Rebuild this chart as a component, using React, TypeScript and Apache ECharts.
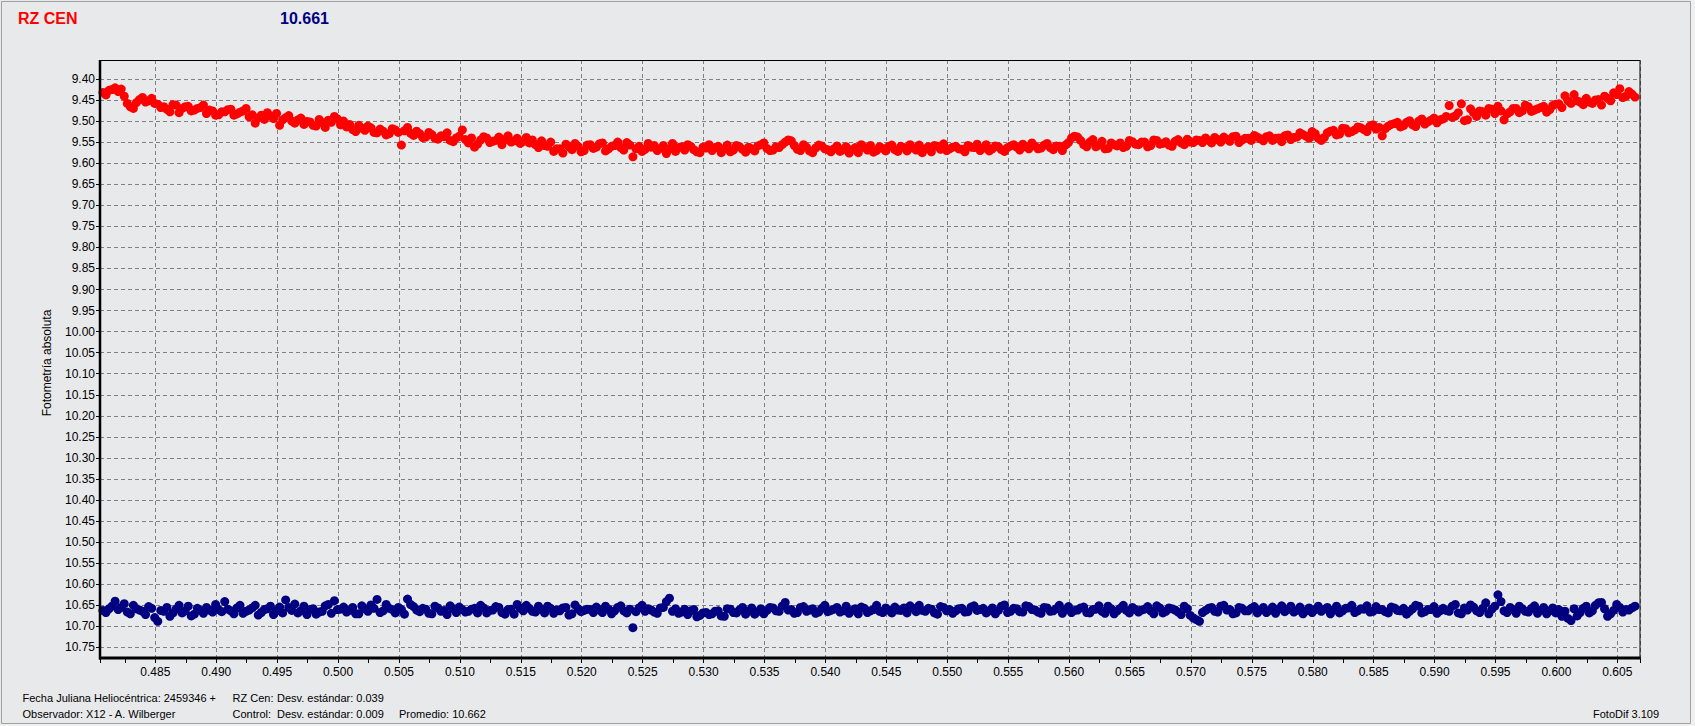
import React, { useEffect, useRef } from "react";
import * as echarts from "echarts";

// Heliocentric Julian Date fraction (2459346 + t), first set of frames
const times = [
  0.4807, 0.4812, 0.4817, 0.4822, 0.4827, 0.4832, 0.4837, 0.4842, 0.4847, 0.4852,
  0.4857, 0.4862, 0.4867, 0.4872, 0.4877, 0.4882, 0.4887, 0.4892, 0.4897, 0.4902,
  0.4907, 0.4912, 0.4917, 0.4922, 0.4927, 0.4932, 0.4937, 0.4942, 0.4947, 0.4952,
  0.4957, 0.4962, 0.4967, 0.4972, 0.4977, 0.4982, 0.4987, 0.4992, 0.4997, 0.5002,
  0.5007, 0.5012, 0.5017, 0.5022, 0.5027, 0.5032, 0.5037, 0.5042, 0.5047, 0.5052,
  0.5057, 0.5062, 0.5067, 0.5072, 0.5077, 0.5082, 0.5087, 0.5092, 0.5097, 0.5102,
  0.5107, 0.5112, 0.5117, 0.5122, 0.5127, 0.5132, 0.5137, 0.5142, 0.5147, 0.5152,
  0.5157, 0.5162, 0.5167, 0.5172, 0.5177, 0.5182, 0.5187, 0.5192, 0.5197, 0.5202,
  0.5207, 0.5212, 0.5217, 0.5222, 0.5227, 0.5232, 0.5237, 0.5242, 0.5247, 0.5252,
  0.5257, 0.5262, 0.5267, 0.5272, 0.5277, 0.5282, 0.5287, 0.5292, 0.5297, 0.5302,
  0.5307, 0.5312, 0.5317, 0.5322, 0.5327, 0.5332, 0.5337, 0.5342, 0.5347, 0.5352,
  0.5357, 0.5362, 0.5367, 0.5372, 0.5377, 0.5382, 0.5387, 0.5392, 0.5397, 0.5402,
  0.5407, 0.5412, 0.5417, 0.5422, 0.5427, 0.5432, 0.5437, 0.5442, 0.5447, 0.5452,
  0.5457, 0.5462, 0.5467, 0.5472, 0.5477, 0.5482, 0.5487, 0.5492, 0.5497, 0.5502,
  0.5507, 0.5512, 0.5517, 0.5522, 0.5527, 0.5532, 0.5537, 0.5542, 0.5547, 0.5552,
  0.5557, 0.5562, 0.5567, 0.5572, 0.5577, 0.5582, 0.5587, 0.5592, 0.5597, 0.5602,
  0.5607, 0.5612, 0.5617, 0.5622, 0.5627, 0.5632, 0.5637, 0.5642, 0.5647, 0.5652,
  0.5657, 0.5662, 0.5667, 0.5672, 0.5677, 0.5682, 0.5687, 0.5692, 0.5697, 0.5702,
  0.5707, 0.5712, 0.5717, 0.5722, 0.5727, 0.5732, 0.5737, 0.5742, 0.5747, 0.5752,
  0.5757, 0.5762, 0.5767, 0.5772, 0.5777, 0.5782, 0.5787, 0.5792, 0.5797, 0.5802,
  0.5807, 0.5812, 0.5817, 0.5822, 0.5827, 0.5832, 0.5837, 0.5842, 0.5847, 0.5852,
  0.5857, 0.5862, 0.5867, 0.5872, 0.5877, 0.5882, 0.5887, 0.5892, 0.5897, 0.5902,
  0.5907, 0.5912, 0.5917, 0.5922, 0.5927, 0.5932, 0.5937, 0.5942, 0.5947, 0.5952,
  0.5957, 0.5962, 0.5967, 0.5972, 0.5977, 0.5982, 0.5987, 0.5992, 0.5997, 0.6002,
  0.6007, 0.6012, 0.6017, 0.6022, 0.6027, 0.6032, 0.6037, 0.6042, 0.6047, 0.6052,
  0.6057, 0.6062,
];

// second set of frames (interleaved)
const timesB = [
  0.48095, 0.48145, 0.48195, 0.48245, 0.48295, 0.48345, 0.48395, 0.48445, 0.48495, 0.48545,
  0.48595, 0.48645, 0.48695, 0.48745, 0.48795, 0.48845, 0.48895, 0.48945, 0.48995, 0.49045,
  0.49095, 0.49145, 0.49195, 0.49245, 0.49295, 0.49345, 0.49395, 0.49445, 0.49495, 0.49545,
  0.49595, 0.49645, 0.49695, 0.49745, 0.49795, 0.49845, 0.49895, 0.49945, 0.49995, 0.50045,
  0.50095, 0.50145, 0.50195, 0.50245, 0.50295, 0.50345, 0.50395, 0.50445, 0.50495, 0.50545,
  0.50595, 0.50645, 0.50695, 0.50745, 0.50795, 0.50845, 0.50895, 0.50945, 0.50995, 0.51045,
  0.51095, 0.51145, 0.51195, 0.51245, 0.51295, 0.51345, 0.51395, 0.51445, 0.51495, 0.51545,
  0.51595, 0.51645, 0.51695, 0.51745, 0.51795, 0.51845, 0.51895, 0.51945, 0.51995, 0.52045,
  0.52095, 0.52145, 0.52195, 0.52245, 0.52295, 0.52345, 0.52395, 0.52445, 0.52495, 0.52545,
  0.52595, 0.52645, 0.52695, 0.52745, 0.52795, 0.52845, 0.52895, 0.52945, 0.52995, 0.53045,
  0.53095, 0.53145, 0.53195, 0.53245, 0.53295, 0.53345, 0.53395, 0.53445, 0.53495, 0.53545,
  0.53595, 0.53645, 0.53695, 0.53745, 0.53795, 0.53845, 0.53895, 0.53945, 0.53995, 0.54045,
  0.54095, 0.54145, 0.54195, 0.54245, 0.54295, 0.54345, 0.54395, 0.54445, 0.54495, 0.54545,
  0.54595, 0.54645, 0.54695, 0.54745, 0.54795, 0.54845, 0.54895, 0.54945, 0.54995, 0.55045,
  0.55095, 0.55145, 0.55195, 0.55245, 0.55295, 0.55345, 0.55395, 0.55445, 0.55495, 0.55545,
  0.55595, 0.55645, 0.55695, 0.55745, 0.55795, 0.55845, 0.55895, 0.55945, 0.55995, 0.56045,
  0.56095, 0.56145, 0.56195, 0.56245, 0.56295, 0.56345, 0.56395, 0.56445, 0.56495, 0.56545,
  0.56595, 0.56645, 0.56695, 0.56745, 0.56795, 0.56845, 0.56895, 0.56945, 0.56995, 0.57045,
  0.57095, 0.57145, 0.57195, 0.57245, 0.57295, 0.57345, 0.57395, 0.57445, 0.57495, 0.57545,
  0.57595, 0.57645, 0.57695, 0.57745, 0.57795, 0.57845, 0.57895, 0.57945, 0.57995, 0.58045,
  0.58095, 0.58145, 0.58195, 0.58245, 0.58295, 0.58345, 0.58395, 0.58445, 0.58495, 0.58545,
  0.58595, 0.58645, 0.58695, 0.58745, 0.58795, 0.58845, 0.58895, 0.58945, 0.58995, 0.59045,
  0.59095, 0.59145, 0.59195, 0.59245, 0.59295, 0.59345, 0.59395, 0.59445, 0.59495, 0.59545,
  0.59595, 0.59645, 0.59695, 0.59745, 0.59795, 0.59845, 0.59895, 0.59945, 0.59995, 0.60045,
  0.60095, 0.60145, 0.60195, 0.60245, 0.60295, 0.60345, 0.60395, 0.60445, 0.60495, 0.60545,
  0.60595, 0.60645,
];

// RZ Cen magnitudes (first set)
const rzCen = [
  9.432, 9.427, 9.421, 9.424, 9.458, 9.470, 9.449, 9.455, 9.446, 9.460,
  9.466, 9.478, 9.462, 9.470, 9.465, 9.474, 9.468, 9.482, 9.476, 9.485,
  9.478, 9.472, 9.483, 9.476, 9.490, 9.505, 9.486, 9.480, 9.494, 9.510,
  9.492, 9.500, 9.497, 9.508, 9.502, 9.512, 9.504, 9.498, 9.489, 9.509,
  9.514, 9.520, 9.510, 9.522, 9.516, 9.528, 9.524, 9.530, 9.521, 9.557,
  9.515, 9.534, 9.530, 9.538, 9.532, 9.543, 9.537, 9.546, 9.540, 9.521,
  9.552, 9.562, 9.545, 9.540, 9.548, 9.538, 9.544, 9.550, 9.541, 9.548,
  9.552, 9.556, 9.547, 9.560, 9.572, 9.566, 9.555, 9.568, 9.560, 9.570,
  9.556, 9.562, 9.552, 9.566, 9.558, 9.563, 9.551, 9.585, 9.560, 9.567,
  9.562, 9.570, 9.558, 9.566, 9.572, 9.561, 9.556, 9.568, 9.575, 9.564,
  9.570, 9.560, 9.566, 9.573, 9.558, 9.567, 9.562, 9.571, 9.556, 9.565,
  9.569, 9.563, 9.550, 9.547, 9.567, 9.556, 9.571, 9.564, 9.559, 9.568,
  9.566, 9.572, 9.561, 9.568, 9.575, 9.563, 9.558, 9.570, 9.565, 9.560,
  9.568, 9.560, 9.571, 9.564, 9.557, 9.566, 9.573, 9.560, 9.554, 9.566,
  9.560, 9.567, 9.558, 9.563, 9.570, 9.556, 9.566, 9.561, 9.572, 9.559,
  9.562, 9.555, 9.566, 9.559, 9.564, 9.553, 9.568, 9.560, 9.557, 9.540,
  9.538, 9.556, 9.550, 9.561, 9.548, 9.565, 9.556, 9.552, 9.560, 9.549,
  9.556, 9.550, 9.558, 9.546, 9.553, 9.557, 9.548, 9.552, 9.543, 9.551,
  9.546, 9.540, 9.552, 9.544, 9.538, 9.548, 9.536, 9.545, 9.541, 9.534,
  9.542, 9.537, 9.546, 9.540, 9.535, 9.544, 9.538, 9.532, 9.541, 9.530,
  9.546, 9.528, 9.522, 9.531, 9.518, 9.525, 9.514, 9.520, 9.512, 9.519,
  9.535, 9.512, 9.506, 9.514, 9.503, 9.509, 9.500, 9.507, 9.498, 9.504,
  9.495, 9.463, 9.488, 9.459, 9.497, 9.480, 9.476, 9.486, 9.472, 9.465,
  9.497, 9.478, 9.470, 9.476, 9.466, 9.474, 9.468, 9.479, 9.463, 9.459,
  9.440, 9.458, 9.452, 9.461, 9.455, 9.450, 9.462, 9.446, 9.433, 9.423,
  9.441, 9.436,
];

// RZ Cen magnitudes (second set)
const rzCenB = [
  9.438, 9.425, 9.430, 9.441, 9.466, 9.456, 9.444, 9.452, 9.458, 9.468,
  9.472, 9.461, 9.480, 9.466, 9.476, 9.470, 9.462, 9.474, 9.486, 9.478,
  9.473, 9.486, 9.479, 9.470, 9.485, 9.492, 9.496, 9.488, 9.482, 9.497,
  9.487, 9.505, 9.493, 9.501, 9.510, 9.496, 9.515, 9.503, 9.495, 9.500,
  9.508, 9.525, 9.517, 9.512, 9.527, 9.519, 9.533, 9.518, 9.527, 9.523,
  9.529, 9.524, 9.539, 9.527, 9.541, 9.535, 9.528, 9.549, 9.536, 9.544,
  9.540, 9.555, 9.537, 9.551, 9.546, 9.556, 9.535, 9.547, 9.553, 9.539,
  9.545, 9.563, 9.558, 9.550, 9.566, 9.576, 9.561, 9.553, 9.573, 9.557,
  9.565, 9.554, 9.571, 9.560, 9.550, 9.569, 9.557, 9.566, 9.572, 9.553,
  9.558, 9.565, 9.577, 9.553, 9.563, 9.569, 9.560, 9.573, 9.562, 9.556,
  9.563, 9.575, 9.557, 9.569, 9.561, 9.574, 9.566, 9.559, 9.552, 9.570,
  9.561, 9.556, 9.545, 9.558, 9.570, 9.562, 9.575, 9.557, 9.566, 9.573,
  9.559, 9.568, 9.576, 9.563, 9.556, 9.569, 9.574, 9.561, 9.571, 9.557,
  9.572, 9.563, 9.556, 9.569, 9.575, 9.561, 9.558, 9.567, 9.570, 9.562,
  9.566, 9.573, 9.562, 9.555, 9.564, 9.571, 9.559, 9.568, 9.563, 9.556,
  9.569, 9.561, 9.552, 9.566, 9.557, 9.563, 9.559, 9.570, 9.551, 9.536,
  9.546, 9.561, 9.544, 9.557, 9.566, 9.552, 9.559, 9.563, 9.546, 9.555,
  9.550, 9.561, 9.545, 9.555, 9.549, 9.560, 9.544, 9.556, 9.550, 9.545,
  9.551, 9.546, 9.539, 9.550, 9.543, 9.537, 9.551, 9.541, 9.546, 9.538,
  9.547, 9.535, 9.541, 9.549, 9.533, 9.539, 9.528, 9.536, 9.525, 9.541,
  9.539, 9.524, 9.533, 9.517, 9.528, 9.521, 9.516, 9.525, 9.509, 9.515,
  9.518, 9.508, 9.503, 9.511, 9.499, 9.513, 9.495, 9.502, 9.493, 9.497,
  9.489, 9.491, 9.480, 9.499, 9.471, 9.489, 9.478, 9.470, 9.482, 9.476,
  9.483, 9.470, 9.480, 9.462, 9.477, 9.471, 9.465, 9.473, 9.460, 9.468,
  9.452, 9.437, 9.455, 9.446, 9.458, 9.449, 9.441, 9.452, 9.437, 9.444,
  9.430, 9.443,
];

// Control star magnitudes (first set)
const control = [
  10.662, 10.658, 10.640, 10.655, 10.666, 10.650, 10.661, 10.672, 10.657, 10.688,
  10.664, 10.676, 10.659, 10.668, 10.652, 10.671, 10.662, 10.655, 10.666, 10.660,
  10.641, 10.663, 10.656, 10.669, 10.661, 10.650, 10.667, 10.658, 10.672, 10.654,
  10.637, 10.662, 10.668, 10.652, 10.660, 10.671, 10.664, 10.648, 10.639, 10.659,
  10.666, 10.655, 10.670, 10.658, 10.649, 10.636, 10.663, 10.657, 10.668, 10.660,
  10.635, 10.653, 10.665, 10.659, 10.670, 10.656, 10.662, 10.651, 10.667, 10.660,
  10.664, 10.657, 10.650, 10.668, 10.661, 10.655, 10.671, 10.659, 10.648, 10.663,
  10.657, 10.666, 10.660, 10.652, 10.669, 10.663, 10.655, 10.670, 10.658, 10.662,
  10.660, 10.654, 10.667, 10.659, 10.663, 10.651, 10.668, 10.703, 10.656, 10.664,
  10.661, 10.669, 10.655, 10.633, 10.658, 10.666, 10.672, 10.660, 10.674, 10.667,
  10.670, 10.663, 10.676, 10.659, 10.668, 10.655, 10.664, 10.671, 10.658, 10.662,
  10.656, 10.664, 10.643, 10.660, 10.667, 10.653, 10.661, 10.669, 10.657, 10.665,
  10.659, 10.666, 10.652, 10.662, 10.670, 10.657, 10.663, 10.650, 10.667, 10.661,
  10.654, 10.662, 10.668, 10.657, 10.650, 10.664, 10.659, 10.671, 10.655, 10.660,
  10.663, 10.657, 10.665, 10.651, 10.660, 10.668, 10.656, 10.662, 10.649, 10.664,
  10.658, 10.666, 10.653, 10.661, 10.669, 10.656, 10.663, 10.650, 10.660, 10.667,
  10.661, 10.654, 10.668, 10.659, 10.664, 10.652, 10.670, 10.657, 10.662, 10.655,
  10.666, 10.659, 10.663, 10.651, 10.668, 10.656, 10.661, 10.672, 10.658, 10.680,
  10.688, 10.662, 10.655, 10.666, 10.650, 10.660, 10.668, 10.657, 10.663, 10.653,
  10.661, 10.667, 10.654, 10.659, 10.665, 10.652, 10.662, 10.670, 10.656, 10.660,
  10.664, 10.655, 10.661, 10.668, 10.657, 10.650, 10.663, 10.659, 10.666, 10.653,
  10.660, 10.668, 10.656, 10.663, 10.671, 10.658, 10.652, 10.665, 10.660, 10.669,
  10.657, 10.664, 10.648, 10.670, 10.661, 10.654, 10.667, 10.644, 10.659, 10.625,
  10.663, 10.655, 10.669, 10.658, 10.666, 10.651, 10.662, 10.670, 10.656, 10.660,
  10.664, 10.686, 10.675, 10.657, 10.668, 10.650, 10.643, 10.676, 10.662, 10.655,
  10.660, 10.656,
];

// Control star magnitudes (second set)
const controlB = [
  10.667, 10.652, 10.660, 10.646, 10.670, 10.658, 10.664, 10.653, 10.679, 10.662,
  10.655, 10.668, 10.650, 10.663, 10.675, 10.657, 10.669, 10.661, 10.648, 10.665,
  10.659, 10.670, 10.650, 10.664, 10.656, 10.673, 10.660, 10.652, 10.663, 10.668,
  10.655, 10.647, 10.663, 10.672, 10.658, 10.666, 10.651, 10.669, 10.660, 10.654,
  10.662, 10.670, 10.651, 10.664, 10.657, 10.667, 10.648, 10.660, 10.655, 10.671,
  10.648, 10.661, 10.657, 10.669, 10.652, 10.664, 10.672, 10.658, 10.654, 10.666,
  10.659, 10.668, 10.656, 10.662, 10.653, 10.667, 10.660, 10.671, 10.657, 10.650,
  10.664, 10.652, 10.668, 10.657, 10.661, 10.656, 10.673, 10.649, 10.665, 10.659,
  10.667, 10.661, 10.652, 10.670, 10.655, 10.663, 10.659, 10.665, 10.650, 10.658,
  10.666, 10.656, 10.641, 10.664, 10.669, 10.659, 10.663, 10.677, 10.668, 10.672,
  10.664, 10.675, 10.658, 10.667, 10.661, 10.671, 10.656, 10.665, 10.670, 10.655,
  10.663, 10.652, 10.661, 10.669, 10.655, 10.664, 10.658, 10.666, 10.650, 10.662,
  10.655, 10.663, 10.669, 10.658, 10.654, 10.667, 10.660, 10.664, 10.656, 10.668,
  10.661, 10.656, 10.651, 10.665, 10.662, 10.657, 10.668, 10.653, 10.663, 10.669,
  10.658, 10.666, 10.654, 10.662, 10.657, 10.663, 10.670, 10.652, 10.667, 10.657,
  10.665, 10.651, 10.660, 10.666, 10.655, 10.664, 10.658, 10.669, 10.653, 10.662,
  10.656, 10.667, 10.660, 10.651, 10.669, 10.658, 10.663, 10.650, 10.668, 10.660,
  10.661, 10.653, 10.670, 10.656, 10.664, 10.658, 10.666, 10.652, 10.674, 10.684,
  10.667, 10.657, 10.664, 10.652, 10.661, 10.670, 10.655, 10.663, 10.657, 10.668,
  10.655, 10.662, 10.669, 10.651, 10.660, 10.666, 10.654, 10.663, 10.667, 10.652,
  10.659, 10.670, 10.652, 10.663, 10.656, 10.667, 10.658, 10.651, 10.664, 10.660,
  10.665, 10.654, 10.662, 10.657, 10.664, 10.650, 10.668, 10.660, 10.653, 10.663,
  10.662, 10.652, 10.668, 10.656, 10.649, 10.663, 10.657, 10.670, 10.652, 10.641,
  10.667, 10.660, 10.652, 10.664, 10.657, 10.669, 10.655, 10.663, 10.668, 10.676,
  10.681, 10.658, 10.667, 10.652, 10.663, 10.644, 10.658, 10.670, 10.648, 10.666,
  10.661, 10.652,
];

const titleText = "RZ CEN";
const titleValue = "10.661";
const yAxisName = "Fotometría absoluta";
const footerLeft = ["Fecha Juliana Heliocéntrica: 2459346 +", "Observador: X12 - A. Wilberger"];
const footerStarNames = ["RZ Cen:", "Control:"];
const footerStats = ["Desv. estándar: 0.039", "Desv. estándar: 0.009"];
const footerMean = "Promedio: 10.662";
const footerVersion = "FotoDif 3.109";

const X_MIN = 0.48046;
const X_MAX = 0.60686;
const Y_MIN = 9.355;
const Y_MAX = 10.775;

const FONT = "'Liberation Sans', Arial, sans-serif";

function pairs(ts: number[], vs: number[]) {
  return ts.map((t, i) => [t, vs[i]]);
}

export default function App() {
  const ref = useRef<HTMLDivElement>(null);

  useEffect(() => {
    if (!ref.current) return;
    const chart = echarts.init(ref.current, null, { renderer: "svg" });
    const gridLeft = 100;
    const gridTop = 60;
    const gridRight = 1640;
    const gridBottom = 658;

    const footerText = (text: string, x: number, y: number) => ({
      type: "text",
      x,
      y,
      z: 100,
      style: {
        text,
        fill: "#000",
        font: `11px ${FONT}`,
        textAlign: "left",
        textVerticalAlign: "middle",
      },
    });

    chart.setOption({
      animation: false,
      backgroundColor: "#e8e9eb",
      grid: {
        left: gridLeft,
        top: gridTop,
        right: 1695 - gridRight,
        bottom: 726 - gridBottom,
        containLabel: false,
      },
      xAxis: [
        {
          type: "value",
          position: "bottom",
          min: X_MIN,
          max: X_MAX,
          splitNumber: 25,
          minInterval: 0.005,
          maxInterval: 0.005,
          axisLine: { show: false },
          axisTick: { show: false },
          axisLabel: {
            show: true,
            margin: 8,
            color: "#000",
            fontSize: 12,
            fontFamily: FONT,
            showMinLabel: false,
            showMaxLabel: false,
            formatter: (v: number) => v.toFixed(3),
          },
          splitLine: {
            show: true,
            lineStyle: { color: "#808080", type: [4, 3], width: 1 },
          },
        },
        {
          type: "value",
          position: "bottom",
          min: X_MIN,
          max: X_MAX,
          splitNumber: 50,
          minInterval: 0.0025,
          maxInterval: 0.0025,
          axisLine: { show: false },
          axisTick: { show: true, length: 5, lineStyle: { color: "#000", width: 1 } },
          axisLabel: { show: false },
          splitLine: { show: false },
        },
      ],
      yAxis: {
        type: "value",
        inverse: true,
        min: Y_MIN,
        max: Y_MAX,
        splitNumber: 28,
        minInterval: 0.05,
        maxInterval: 0.05,
        axisLine: { show: false },
        axisTick: { show: true, length: 4, lineStyle: { color: "#000", width: 1 } },
        axisLabel: {
          margin: 5,
          color: "#000",
          fontSize: 12,
          fontFamily: FONT,
          showMinLabel: false,
          showMaxLabel: false,
          formatter: (v: number) => v.toFixed(2),
        },
        splitLine: {
          show: true,
          lineStyle: { color: "#808080", type: [4, 3], width: 1 },
        },
      },
      series: [
        {
          name: "RZ Cen",
          type: "scatter",
          xAxisIndex: 0,
          symbol: "circle",
          symbolSize: 9,
          itemStyle: { color: "#ff0000", opacity: 1 },
          data: pairs(times, rzCen).concat(pairs(timesB, rzCenB)),
        },
        {
          name: "Control",
          type: "scatter",
          xAxisIndex: 0,
          symbol: "circle",
          symbolSize: 9,
          itemStyle: { color: "#000080", opacity: 1 },
          data: pairs(times, control).concat(pairs(timesB, controlB)),
        },
      ],
      graphic: [
        // outer frame
        {
          type: "rect",
          z: 100,
          shape: { x: 1690.5, y: 0, width: 5, height: 726 },
          style: { fill: "#f0f0f0" },
        },
        {
          type: "rect",
          z: 100,
          shape: { x: 0, y: 723.5, width: 1695, height: 3 },
          style: { fill: "#f0f0f0" },
        },
        {
          type: "rect",
          z: 101,
          shape: { x: 1.5, y: 1.5, width: 1689, height: 722 },
          style: { fill: "none", stroke: "#a0a0a0", lineWidth: 1 },
        },
        // plot frame
        {
          type: "rect",
          z: 100,
          shape: { x: gridLeft, y: gridTop + 0.5, width: gridRight - gridLeft, height: gridBottom - gridTop },
          style: { fill: "none", stroke: "#000", lineWidth: 1 },
        },
        {
          type: "line",
          z: 101,
          shape: { x1: gridLeft, y1: gridTop, x2: gridLeft, y2: gridBottom + 1.5 },
          style: { stroke: "#000", lineWidth: 2.5 },
        },
        {
          type: "line",
          z: 101,
          shape: { x1: gridLeft - 1, y1: gridBottom, x2: gridRight + 0.5, y2: gridBottom },
          style: { stroke: "#000", lineWidth: 3 },
        },
        // titles
        {
          type: "text",
          x: 18,
          y: 18,
          z: 100,
          style: {
            text: titleText,
            fill: "#ff0000",
            font: `bold 16px ${FONT}`,
            textAlign: "left",
            textVerticalAlign: "middle",
          },
        },
        {
          type: "text",
          x: 280,
          y: 18,
          z: 100,
          style: {
            text: titleValue,
            fill: "#000080",
            font: `bold 16px ${FONT}`,
            textAlign: "left",
            textVerticalAlign: "middle",
          },
        },
        // y axis name
        {
          type: "text",
          x: 47,
          y: 363,
          rotation: Math.PI / 2,
          z: 100,
          style: {
            text: yAxisName,
            fill: "#000",
            font: `12px ${FONT}`,
            textAlign: "center",
            textVerticalAlign: "middle",
          },
        },
        // footer
        footerText(footerLeft[0], 22.5, 698),
        footerText(footerLeft[1], 22.5, 714),
        footerText(footerStarNames[0], 232.5, 698),
        footerText(footerStarNames[1], 232.5, 714),
        footerText(footerStats[0], 277, 698),
        footerText(footerStats[1], 277, 714),
        footerText(footerMean, 399, 714),
        footerText(footerVersion, 1593, 714),
      ],
    });

    return () => {
      chart.dispose();
    };
  }, []);

  return (
    <div
      ref={ref}
      style={{ position: "absolute", left: 0, top: 0, width: 1695, height: 726 }}
    />
  );
}
